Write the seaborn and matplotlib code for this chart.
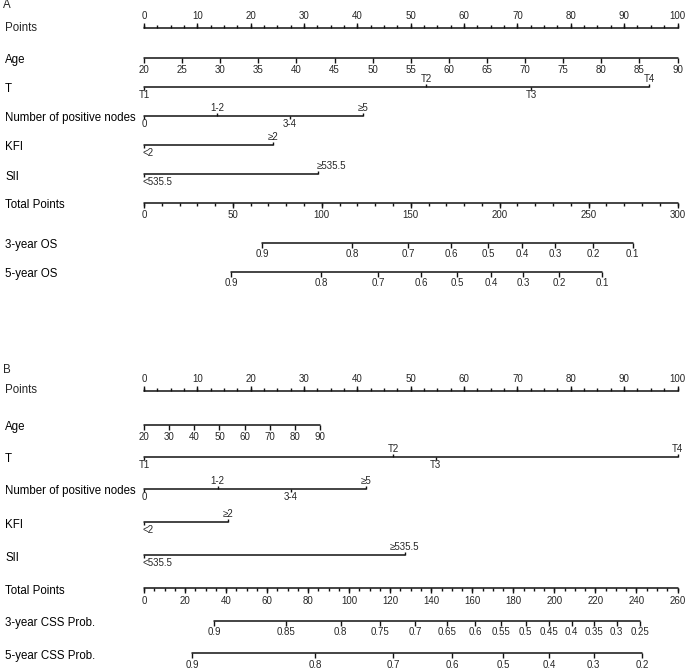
import numpy as np
import pandas as pd
import matplotlib.pyplot as plt
import seaborn as sns

sns.set_style("white")
plt.rcParams['font.family'] = ['Liberation Sans', 'DejaVu Sans']

# ---------------- Panel A (OS) ----------------
points_labels = list(range(0, 101, 10))
age_labels_a = list(range(20, 91, 5))
age_pts_a = [0, 100]            # age 20 -> 0 pts, age 90 -> 100 pts
t_labels = ["T1", "T2", "T3", "T4"]
t_pts_a = [0, 52.9, 72.6, 94.7]
nodes_labels = ["0", "1-2", "3-4", "≥5"]
nodes_pts_a = [0, 13.7, 27.4, 41.1]
kfi_labels = ["<2", "≥2"]
kfi_pts_a = [0, 24.2]
sii_labels = ["<535.5", "≥535.5"]
sii_pts_a = [0, 32.6]
total_max_a = 300
os3_probs = [0.9, 0.8, 0.7, 0.6, 0.5, 0.4, 0.3, 0.2, 0.1]
os3_total = [66.4, 117, 148.6, 172.8, 193.6, 212.8, 231.3, 252.7, 274.7]
os5_probs = [0.9, 0.8, 0.7, 0.6, 0.5, 0.4, 0.3, 0.2, 0.1]
os5_total = [49, 99.6, 131.7, 155.9, 176.2, 195.3, 213.3, 233.6, 257.8]

# ---------------- Panel B (CSS) ----------------
age_labels_b = list(range(20, 91, 10))
age_pts_b = [0, 33.0]           # age 20 -> 0 pts, age 90 -> 33 pts
t_pts_b = [0, 46.7, 54.7, 100]
nodes_pts_b = [0, 13.8, 27.5, 41.6]
kfi_pts_b = [0, 15.7]
sii_pts_b = [0, 48.9]
total_max_b = 260
css3_probs = [0.9, 0.85, 0.8, 0.75, 0.7, 0.65, 0.6, 0.55, 0.5, 0.45, 0.4, 0.35, 0.3, 0.25]
css3_total = [34.1, 69.1, 95.9, 114.9, 132.3, 147.5, 161.3, 173.8, 186, 197.3,
              208.4, 219.2, 230.3, 241.5]
css5_probs = [0.9, 0.8, 0.7, 0.6, 0.5, 0.4, 0.3, 0.2]
css5_total = [23.4, 83.4, 121.4, 150.3, 174.9, 197.3, 219.2, 242.7]

# ---------------- figure: x in points, y in pixels ----------------
PX = 5.335
fig = plt.figure(figsize=(6.85, 6.69), dpi=100)
ax = fig.add_axes([0, 0, 1, 1])

LC = "#111111"
ROW_FS = 8.3
TICK_FS = 7
LABEL_X = -144 / PX + 5 / PX
segs = []


def row_label(y, text):
    ax.text(LABEL_X, y + 2.5, text, ha="left", va="center", fontsize=ROW_FS, color="black")


def scale_axis(y, xs, labels, minor=None, up=False, off=12.5):
    # numeric axis: line, major ticks with labels, optional minor ticks
    segs.append((min(xs), max(xs), y))
    d = -1 if up else 1
    ax.vlines(xs, y, y + d * 5, color=LC, lw=1.0)
    if minor is not None:
        ax.vlines(minor, y, y + d * 3, color=LC, lw=1.0)
    for x, lab in zip(xs, labels):
        ax.text(x, y + d * off, lab, ha="center", va="center", fontsize=TICK_FS)


def cat_axis(y, xs, labels, sides, has=None):
    # categorical axis: labels alternate above / below
    segs.append((min(xs), max(xs), y))
    for i, (x, lab, s) in enumerate(zip(xs, labels, sides)):
        d = -1 if s == "up" else 1
        ax.vlines(x, y, y + d * 3, color=LC, lw=1.0)
        ha = "center" if has is None else has[i]
        dx = 0 if ha == "center" else -0.3
        ax.text(x + dx, y + d * 8, lab, ha=ha, va="center", fontsize=TICK_FS)


def panel(y0, tag, age_labels, age_pts, t_pts, nodes_pts, kfi_pts, sii_pts,
          total_max, total_step, total_minor, prob_rows, rows, sii_has):
    ax.text(LABEL_X - 2 / PX, y0, tag, ha="left", va="center", fontsize=ROW_FS)
    y = rows
    # Points
    ax.text(LABEL_X, y[0] - 0.5, "Points", ha="left", va="center", fontsize=ROW_FS)
    scale_axis(y[0], points_labels, [str(v) for v in points_labels],
               minor=np.arange(0, 100.1, 2.5), up=True, off=12)
    # Age
    row_label(y[1], "Age")
    ax_x = np.interp(age_labels, [20, 90], age_pts)
    scale_axis(y[1], ax_x, [str(v) for v in age_labels])
    # T
    row_label(y[2], "T")
    cat_axis(y[2], t_pts, t_labels, ["down", "up", "down", "up"])
    # Nodes
    row_label(y[3], "Number of positive nodes")
    cat_axis(y[3], nodes_pts, nodes_labels, ["down", "up", "down", "up"])
    # KFI
    row_label(y[4], "KFI")
    cat_axis(y[4], kfi_pts, kfi_labels, ["down", "up"], has=["left", "center"])
    # SII
    row_label(y[5], "SII")
    cat_axis(y[5], sii_pts, sii_labels, ["down", "up"], has=sii_has)
    # Total points
    row_label(y[6], "Total Points")
    tot = np.arange(0, total_max + 1, total_step)
    scale_axis(y[6], tot * 100 / total_max, [str(v) for v in tot],
               minor=np.arange(0, total_max + 0.1, total_minor) * 100 / total_max)
    # probability rows
    for yy, (name, probs, totals) in zip(y[7:], prob_rows):
        row_label(yy, name)
        xs = np.array(totals) * 100 / total_max
        scale_axis(yy, xs, [f"{p:g}" for p in probs], off=11.5)


panel(5, "A", age_labels_a, age_pts_a, t_pts_a, nodes_pts_a, kfi_pts_a, sii_pts_a,
      total_max_a, 50, 10,
      [("3-year OS", os3_probs, os3_total), ("5-year OS", os5_probs, os5_total)],
      [28.3, 57.5, 86.8, 115.8, 144.8, 174.3, 202.5, 242.8, 271.8],
      ["left", "left"])

panel(370, "B", age_labels_b, age_pts_b, t_pts_b, nodes_pts_b, kfi_pts_b, sii_pts_b,
      total_max_b, 20, 5,
      [("3-year CSS Prob.", css3_probs, css3_total), ("5-year CSS Prob.", css5_probs, css5_total)],
      [390.7, 424.7, 456.7, 488.5, 522.3, 555.3, 588.3, 620.8, 653.3],
      ["left", "center"])

# main axis lines drawn with seaborn
seg_df = pd.DataFrame(
    [(i, x, y) for i, (x0, x1, y) in enumerate(segs) for x in (x0, x1)],
    columns=["seg", "x", "y"])
sns.lineplot(data=seg_df, x="x", y="y", units="seg", estimator=None, sort=False,
             color=LC, lw=1.1, ax=ax, legend=False)
ax.set_xlim(-144 / PX, (685 - 144) / PX)
ax.set_ylim(669, 0)
ax.axis("off")

fig.savefig("out.png", dpi=100)
